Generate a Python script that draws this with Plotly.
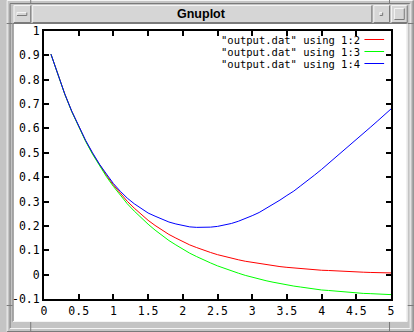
import plotly.graph_objects as go

# ---------------- data ----------------
x_vals = [0.1, 0.2, 0.3, 0.4, 0.5, 0.6, 0.7, 0.8, 0.9, 1.0,
          1.1, 1.2, 1.3, 1.4, 1.5, 1.6, 1.7, 1.8, 1.9, 2.0,
          2.1, 2.2, 2.3, 2.4, 2.5, 2.6, 2.7, 2.8, 2.9, 3.0,
          3.1, 3.2, 3.3, 3.4, 3.5, 3.6, 3.7, 3.8, 3.9, 4.0,
          4.1, 4.2, 4.3, 4.4, 4.5, 4.6, 4.7, 4.8, 4.9, 5.0]

col2 = [0.905, 0.819, 0.741, 0.670, 0.607, 0.549, 0.497, 0.449, 0.407, 0.368,
        0.333, 0.301, 0.273, 0.247, 0.223, 0.202, 0.183, 0.165, 0.150, 0.135,
        0.122, 0.111, 0.100, 0.091, 0.082, 0.074, 0.067, 0.061, 0.055, 0.050,
        0.045, 0.041, 0.037, 0.033, 0.030, 0.027, 0.025, 0.022, 0.020, 0.018,
        0.017, 0.015, 0.014, 0.012, 0.011, 0.010, 0.009, 0.008, 0.007, 0.007]

col3 = [0.905, 0.819, 0.740, 0.669, 0.605, 0.547, 0.494, 0.445, 0.402, 0.362,
        0.325, 0.291, 0.261, 0.233, 0.207, 0.183, 0.161, 0.140, 0.122, 0.104,
        0.088, 0.074, 0.060, 0.048, 0.036, 0.025, 0.015, 0.006, -0.003, -0.011,
        -0.018, -0.025, -0.031, -0.037, -0.042, -0.047, -0.051, -0.056, -0.059, -0.063,
        -0.065, -0.068, -0.070, -0.073, -0.075, -0.077, -0.078, -0.080, -0.081, -0.082]

col4 = [0.905, 0.819, 0.741, 0.671, 0.608, 0.551, 0.500, 0.453, 0.413, 0.374,
        0.342, 0.314, 0.291, 0.271, 0.253, 0.240, 0.227, 0.216, 0.208, 0.201,
        0.196, 0.194, 0.193, 0.195, 0.198, 0.203, 0.210, 0.219, 0.229, 0.242,
        0.255, 0.271, 0.288, 0.306, 0.325, 0.343, 0.365, 0.386, 0.409, 0.432,
        0.456, 0.480, 0.505, 0.529, 0.554, 0.579, 0.604, 0.629, 0.654, 0.680]

series_names = ['"output.dat" using 1:2', '"output.dat" using 1:3', '"output.dat" using 1:4']
series_colors = ["#ff0000", "#00ff00", "#0000ff"]

x_tick_vals = [0, 0.5, 1, 1.5, 2, 2.5, 3, 3.5, 4, 4.5, 5]
x_tick_text = ["0", "0.5", "1", "1.5", "2", "2.5", "3", "3.5", "4", "4.5", "5"]
y_tick_vals = [-0.1, 0, 0.1, 0.2, 0.3, 0.4, 0.5, 0.6, 0.7, 0.8, 0.9, 1]
y_tick_text = ["-0.1", "0", "0.1", "0.2", "0.3", "0.4", "0.5", "0.6", "0.7", "0.8", "0.9", "1"]

window_title = "Gnuplot"

# ---------------- layout geometry (pixels) ----------------
W, H = 414, 332
L, R, T, B = 38, 391, 31, 299
PW, PH = R - L, B - T


def px(x):
    return (x - L) / PW


def py(y):
    return (B - y) / PH


FRAME = "#c4c4c4"
TITLEBG = "#d6d6d6"
LIGHT = "#f4f4f4"
DARK = "#7a7a7a"
MONO = "DejaVu Sans Mono"

fig = go.Figure()
for ys, name, color in zip([col2, col3, col4], series_names, series_colors):
    fig.add_trace(go.Scatter(x=x_vals, y=ys, mode="lines", name=name,
                             line=dict(color=color, width=1), showlegend=False,
                             hoverinfo="skip"))

shapes = []


def rect(x0, y0, x1, y1, fill, layer="below"):
    shapes.append(dict(type="rect", xref="paper", yref="paper",
                       x0=px(x0), x1=px(x1), y0=py(y0), y1=py(y1),
                       fillcolor=fill, line=dict(width=0), layer=layer))


def line(x0, y0, x1, y1, color, w=1, layer="below"):
    shapes.append(dict(type="line", xref="paper", yref="paper",
                       x0=px(x0), x1=px(x1), y0=py(y0), y1=py(y1),
                       line=dict(color=color, width=w), layer=layer))


def bevel(x0, y0, x1, y1, raised=True):
    tl, br = (LIGHT, DARK) if raised else (DARK, LIGHT)
    line(x0, y0, x1, y0, tl)
    line(x0, y0, x0, y1, tl)
    line(x0, y1, x1, y1, br)
    line(x1, y0, x1, y1, br)


# outer frame
bevel(0.5, 0.5, 413.5, 331.5, raised=True)
bevel(3.5, 3.5, 410.5, 328.5, raised=False)
# content area (white)
rect(7, 24, 407, 321, "white")
bevel(6.5, 23.5, 407.5, 321.5, raised=False)
# title bar and buttons
rect(26, 5, 371, 22, TITLEBG)
bevel(26.5, 5.5, 371.5, 22.5, raised=True)
rect(7, 5, 24, 22, TITLEBG)
bevel(7.5, 5.5, 24.5, 22.5, raised=True)
bevel(10.5, 12.5, 20.5, 15.5, raised=True)
rect(373, 5, 389, 22, TITLEBG)
bevel(373.5, 5.5, 389.5, 22.5, raised=True)
bevel(379.5, 12.5, 382.5, 15.5, raised=True)
rect(391, 5, 407, 22, TITLEBG)
bevel(391.5, 5.5, 407.5, 22.5, raised=True)
bevel(394.5, 8.5, 404.5, 19.5, raised=True)
# corner handle notches
for (xa, ya, xb, yb) in [(24.5, 0, 24.5, 4), (389.5, 0, 389.5, 4),
                         (24.5, 322, 24.5, 332), (389.5, 322, 389.5, 332),
                         (0, 23.5, 6, 23.5), (408, 23.5, 414, 23.5),
                         (0, 305.5, 6, 305.5), (408, 305.5, 414, 305.5)]:
    line(xa, ya, xb, yb, DARK)

# legend samples
legend_rows = [39.5, 51.5, 63.5]
annotations = []
for name, color, yy in zip(series_names, series_colors, legend_rows):
    annotations.append(dict(xref="paper", yref="paper", x=px(361), y=py(yy),
                            text=name, showarrow=False, xanchor="right",
                            yanchor="middle",
                            font=dict(family=MONO, size=10.5, color="black")))
    line(364, yy, 384, yy, color, layer="above")

annotations.append(dict(xref="paper", yref="paper", x=px(198), y=py(14),
                        text="<b>" + window_title + "</b>", showarrow=False,
                        xanchor="center", yanchor="middle",
                        font=dict(family="Liberation Sans", size=12.5, color="black")))

axis_common = dict(showline=True, linecolor="black", linewidth=2, mirror="ticks",
                   ticks="inside", ticklen=5, tickwidth=2, tickcolor="black",
                   showgrid=False, zeroline=False,
                   tickfont=dict(family=MONO, size=11.5, color="black"))

fig.update_layout(
    width=W, height=H,
    margin=dict(l=L, r=W - R, t=T, b=H - B, pad=0),
    paper_bgcolor=FRAME, plot_bgcolor="white",
    xaxis=dict(range=[0, 5], tickvals=x_tick_vals, ticktext=x_tick_text, **axis_common),
    yaxis=dict(range=[-0.1, 1], tickvals=y_tick_vals, ticktext=y_tick_text, **axis_common),
    shapes=shapes, annotations=annotations, showlegend=False,
)

fig.write_html("out.html", config={"displayModeBar": False},
               post_script="document.body.style.margin='0px';"
                           "document.body.style.overflow='hidden';")
